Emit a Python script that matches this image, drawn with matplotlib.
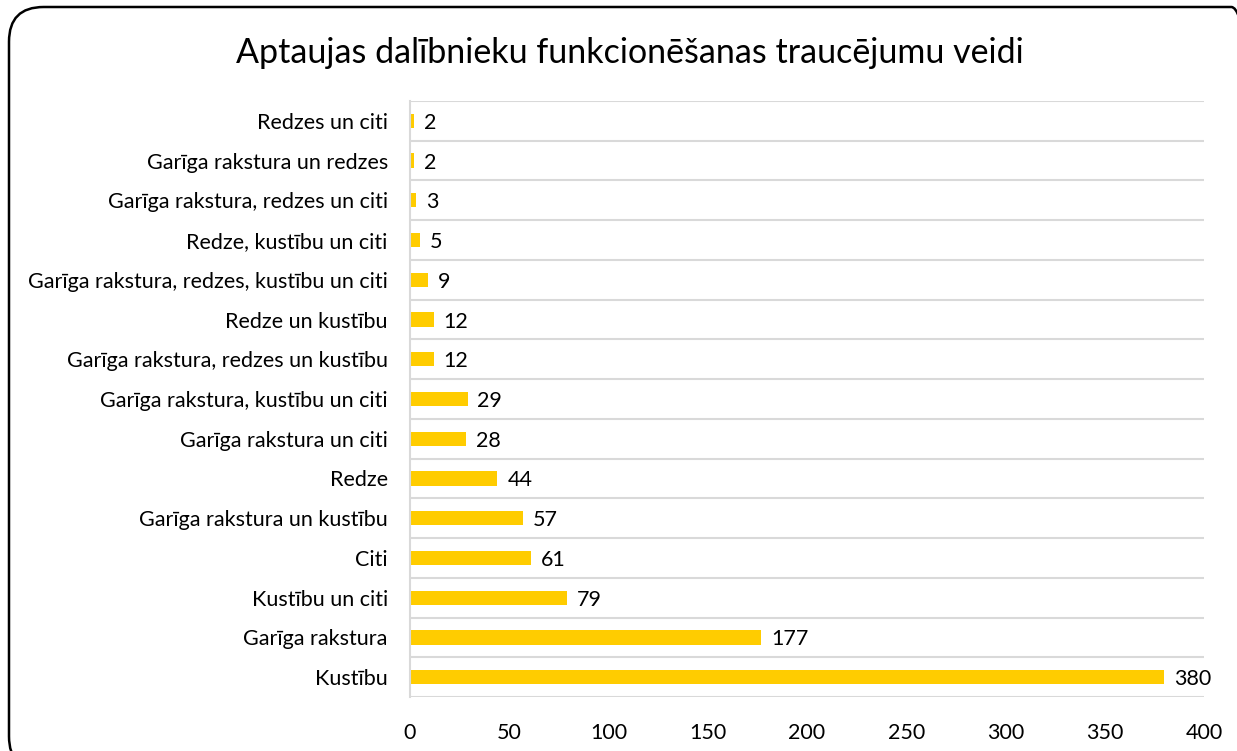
import matplotlib
matplotlib.use("Agg")
import matplotlib.pyplot as plt
from matplotlib.patches import FancyBboxPatch

# data, top to bottom as in the chart
categories = [
    "Redzes un citi",
    "Garīga rakstura un redzes",
    "Garīga rakstura, redzes un citi",
    "Redze, kustību un citi",
    "Garīga rakstura, redzes, kustību un citi",
    "Redze un kustību",
    "Garīga rakstura, redzes un kustību",
    "Garīga rakstura, kustību un citi",
    "Garīga rakstura un citi",
    "Redze",
    "Garīga rakstura un kustību",
    "Citi",
    "Kustību un citi",
    "Garīga rakstura",
    "Kustību",
]
values = [2, 2, 3, 5, 9, 12, 12, 29, 28, 44, 57, 61, 79, 177, 380]
xticks = [0, 50, 100, 150, 200, 250, 300, 350, 400]

title = "Aptaujas dalībnieku funkcionēšanas traucējumu veidi"

plt.rcParams['font.family'] = ['Lato', 'DejaVu Sans']

W, H = 1237, 751
fig = plt.figure(figsize=(W / 100, H / 100), dpi=100)

# rounded frame around the chart
frame = FancyBboxPatch((9 / W, -20 / H), (W + 20) / W, (H + 13) / H,
                       boxstyle="round,pad=0,rounding_size=0.028",
                       transform=fig.transFigure, fill=False,
                       edgecolor="black", linewidth=1.8, mutation_aspect=W / H)
fig.patches.append(frame)

ax = fig.add_axes([410 / W, 1 - 697 / H, (1204 - 410) / W, (697 - 101) / H])

fs = 15.5
n = len(categories)
pos = list(range(n))[::-1]
ax.barh(pos, values, height=0.36, color="#FFCC00")
for p, v in zip(pos, values):
    ax.text(v + 5, p - 0.05, str(v), va="center", ha="left", fontsize=fs, color="black")

ax.set_ylim(-0.5, n - 0.5)
ax.set_xlim(0, 400)
ax.set_yticks(pos)
ax.set_yticklabels(categories, fontsize=fs)
ax.set_xticks(xticks)
ax.set_xticklabels([str(t) for t in xticks], fontsize=fs)

# category separators
for b in range(n + 1):
    ax.axhline(b - 0.5, color="#D9D9D9", linewidth=1.5, zorder=0)

for s in ["top", "right", "bottom"]:
    ax.spines[s].set_visible(False)
ax.spines["left"].set_color("#D9D9D9")
ax.spines["left"].set_linewidth(1.5)
ax.tick_params(axis="both", length=0)
ax.tick_params(axis="y", pad=16)
ax.tick_params(axis="x", pad=19)

fig.text(630 / W, 1 - 53 / H, title, ha="center", va="center", fontsize=24.5)

fig.savefig("out.png", dpi=100)
